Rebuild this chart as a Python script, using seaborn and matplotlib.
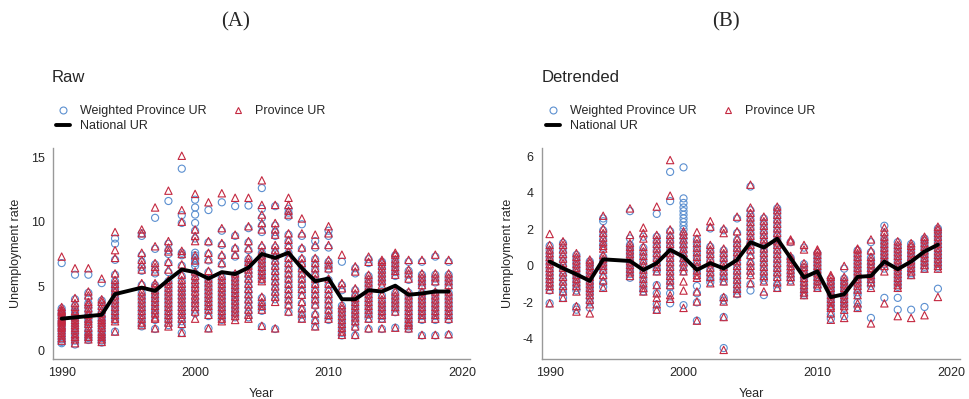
import numpy as np
import pandas as pd
import matplotlib
matplotlib.use("Agg")
import matplotlib.pyplot as plt
from matplotlib.lines import Line2D
import seaborn as sns

years = [1990, 1991, 1992, 1993, 1994, 1996, 1997, 1998, 1999, 2000, 2001, 2002,
         2003, 2004, 2005, 2006, 2007, 2008, 2009, 2010, 2011, 2012, 2013, 2014,
         2015, 2016, 2017, 2018, 2019]

national_raw = [2.5, 2.6, 2.7, 2.8, 4.4, 4.9, 4.65, 5.5, 6.3, 6.1, 5.6, 6.1, 5.95,
                6.45, 7.5, 7.2, 7.6, 6.4, 5.4, 5.6, 4.0, 4.0, 4.7, 4.6, 5.05, 4.35,
                4.45, 4.6, 4.6]

national_det = [0.24, -0.13, -0.46, -0.82, 0.36, 0.27, -0.22, 0.15, 0.88, 0.5, -0.22,
                0.15, -0.14, 0.33, 1.3, 1.01, 1.49, 0.43, -0.63, -0.3, -1.71, -1.55,
                -0.6, -0.55, 0.24, -0.18, 0.24, 0.79, 1.16]

raw_province = [
    [7.3, 3.4, 3.2, 3.0, 2.8, 2.6, 2.4, 2.3, 2.2, 2.0, 1.8, 1.6, 1.4, 1.2, 1.0, 0.8, 3.1, 2.5, 1.9],
    [6.4, 4.1, 3.7, 3.4, 3.1, 2.9, 2.6, 2.4, 2.2, 2.0, 1.8, 1.6, 1.3, 1.1, 0.9, 0.6],
    [6.4, 4.6, 4.3, 3.8, 3.6, 3.3, 3.0, 2.8, 2.5, 2.3, 2.1, 1.8, 1.5, 1.3, 1.1, 0.9],
    [5.6, 4.0, 3.8, 3.5, 3.2, 2.9, 2.6, 2.4, 2.2, 2.0, 1.8, 1.5, 1.3, 1.1, 0.9, 0.7],
    [9.2, 7.8, 7.2, 6.0, 5.5, 5.2, 4.9, 4.6, 4.3, 4.0, 3.7, 3.4, 3.1, 2.8, 2.5, 2.3, 1.5],
    [9.4, 9.1, 7.6, 7.05, 6.7, 6.3, 5.25, 4.6, 4.3, 4.0, 3.7, 3.4, 3.1, 2.8, 2.5, 2.2, 2.0],
    [11.1, 8.1, 6.8, 6.5, 6.15, 5.25, 5.0, 4.7, 4.4, 4.1, 3.8, 3.5, 3.2, 2.9, 2.6, 2.5, 1.75],
    [12.4, 8.5, 8.0, 7.7, 6.9, 6.3, 5.5, 5.2, 4.9, 4.6, 4.3, 4.0, 3.7, 3.4, 3.1, 2.8, 2.5, 2.2, 1.9],
    [15.1, 10.9, 10.0, 7.75, 7.5, 6.7, 5.9, 5.5, 5.2, 4.9, 4.6, 4.3, 4.0, 3.7, 3.4, 3.1, 2.8, 2.5, 2.1, 1.4],
    [12.15, 9.4, 8.9, 8.5, 7.4, 7.0, 6.15, 5.8, 5.5, 5.2, 4.9, 4.6, 4.3, 4.0, 3.7, 3.4, 3.05, 2.5],
    [11.5, 8.5, 7.6, 7.1, 6.2, 5.6, 5.3, 5.0, 4.7, 4.4, 4.1, 3.8, 3.5, 3.2, 2.8, 1.75],
    [12.2, 9.5, 8.35, 7.45, 6.8, 5.8, 5.5, 5.2, 4.9, 4.6, 4.3, 4.0, 3.7, 3.4, 3.1, 2.8, 2.5, 2.3],
    [11.85, 9.0, 8.0, 7.45, 6.0, 5.7, 5.4, 5.1, 4.8, 4.5, 4.2, 3.9, 3.6, 3.3, 3.0, 2.7, 2.4],
    [11.85, 9.65, 8.5, 7.95, 7.2, 6.9, 6.6, 6.3, 6.0, 5.6, 5.2, 4.8, 4.4, 4.0, 3.6, 3.2, 2.8, 2.5],
    [13.2, 11.3, 10.55, 9.9, 9.4, 8.2, 7.7, 7.4, 7.1, 6.8, 6.5, 6.2, 5.9, 5.6, 5.4, 4.2, 3.8, 3.5, 3.2, 1.95],
    [11.3, 9.9, 9.4, 9.0, 8.2, 7.8, 7.4, 7.0, 6.6, 6.2, 5.8, 5.4, 5.0, 4.6, 4.2, 3.8, 1.75],
    [11.85, 11.3, 10.85, 10.55, 9.1, 8.6, 8.2, 7.7, 7.2, 6.8, 6.4, 6.0, 5.6, 5.2, 4.8, 4.4, 4.0, 3.6, 3.05],
    [10.25, 9.1, 8.0, 7.2, 6.8, 6.4, 6.0, 5.6, 5.2, 4.8, 4.35, 3.8, 3.3, 2.9, 2.5],
    [9.0, 8.2, 7.2, 6.8, 6.4, 6.0, 5.6, 5.2, 4.8, 4.4, 4.0, 3.6, 2.9, 2.4, 1.9],
    [9.65, 9.1, 8.2, 7.05, 6.7, 6.4, 5.6, 5.2, 4.8, 4.4, 4.0, 3.6, 3.2, 2.8, 2.5],
    [7.45, 5.25, 4.85, 3.55, 3.3, 3.0, 2.7, 2.4, 2.1, 1.8, 1.5, 1.25],
    [6.55, 6.15, 4.85, 4.45, 4.1, 3.8, 3.5, 3.2, 2.9, 2.6, 2.3, 1.9, 1.25],
    [7.3, 6.9, 5.9, 5.6, 5.3, 5.0, 4.7, 4.4, 4.1, 3.8, 3.5, 3.2, 2.9, 2.5, 1.75],
    [7.05, 6.9, 6.6, 6.3, 6.0, 5.7, 5.4, 5.1, 4.35, 4.0, 3.7, 3.4, 3.1, 2.8, 2.5, 1.75],
    [7.6, 7.45, 7.1, 6.8, 6.5, 6.2, 5.9, 4.6, 4.3, 4.0, 3.7, 3.4, 3.05, 1.8],
    [7.05, 6.3, 6.0, 5.6, 4.6, 4.3, 4.0, 3.7, 3.4, 3.1, 2.8, 2.5, 2.2, 2.0, 1.75],
    [7.05, 6.0, 5.7, 5.4, 5.1, 4.6, 4.3, 4.0, 3.7, 3.4, 3.1, 2.8, 2.5, 1.25],
    [7.45, 6.0, 5.7, 5.4, 4.6, 4.3, 4.0, 3.7, 3.4, 3.1, 2.8, 2.5, 1.25],
    [7.05, 6.0, 5.7, 5.4, 5.1, 4.6, 4.3, 4.0, 3.7, 3.4, 3.1, 2.8, 2.5, 1.3],
]

raw_weighted = [
    [6.8, 3.3, 3.1, 2.9, 2.7, 2.5, 2.3, 2.1, 1.9, 1.7, 1.5, 1.3, 1.1, 0.9, 0.7, 0.6],
    [5.9, 4.0, 3.5, 3.2, 3.0, 2.7, 2.5, 2.3, 2.1, 1.9, 1.7, 1.4, 1.2, 1.0, 0.8, 0.5],
    [5.9, 4.5, 4.1, 3.7, 3.4, 3.1, 2.8, 2.6, 2.4, 2.2, 1.9, 1.6, 1.4, 1.2, 1.0, 0.85],
    [5.25, 3.9, 3.6, 3.3, 3.0, 2.7, 2.5, 2.3, 2.1, 1.9, 1.6, 1.4, 1.2, 1.0, 0.8, 0.65],
    [8.7, 8.3, 7.05, 5.9, 5.4, 5.1, 4.8, 4.5, 4.2, 3.9, 3.6, 3.3, 3.0, 2.7, 2.4, 1.5],
    [9.1, 8.9, 7.4, 6.9, 6.5, 6.2, 5.1, 4.5, 4.2, 3.9, 3.6, 3.3, 3.0, 2.7, 2.4, 2.1, 1.9],
    [10.3, 7.9, 6.7, 6.3, 6.0, 5.1, 4.9, 4.6, 4.3, 4.0, 3.7, 3.4, 3.1, 2.8, 2.4, 1.7],
    [11.6, 8.3, 7.8, 7.5, 6.8, 6.1, 5.4, 5.1, 4.8, 4.5, 4.2, 3.9, 3.6, 3.3, 3.0, 2.7, 2.4, 2.0],
    [14.1, 10.5, 9.9, 7.6, 7.4, 6.6, 5.8, 5.4, 5.0, 4.7, 4.4, 4.1, 3.8, 3.5, 3.2, 2.9, 2.6, 2.3, 2.0, 1.4],
    [11.7, 11.1, 10.55, 9.9, 9.3, 8.7, 7.6, 7.4, 7.2, 7.0, 6.8, 6.6, 6.0, 5.6, 5.2, 4.8, 4.4, 4.0, 3.6, 3.2, 2.9],
    [10.9, 8.4, 7.5, 7.0, 6.1, 5.5, 5.2, 4.9, 4.6, 4.3, 4.0, 3.7, 3.4, 3.1, 2.7, 1.75],
    [11.5, 9.3, 8.2, 7.3, 6.7, 5.7, 5.4, 5.1, 4.8, 4.5, 4.2, 3.9, 3.6, 3.3, 3.0, 2.7, 2.4],
    [11.2, 8.9, 7.9, 7.3, 5.9, 5.6, 5.3, 5.0, 4.7, 4.4, 4.1, 3.8, 3.5, 3.2, 2.9, 2.6],
    [11.25, 9.5, 8.4, 7.8, 7.1, 6.8, 6.5, 6.1, 5.8, 5.4, 5.0, 4.6, 4.2, 3.8, 3.4, 3.0, 2.6],
    [12.6, 11.0, 10.3, 9.7, 9.2, 8.0, 7.6, 7.3, 7.0, 6.7, 6.4, 6.1, 5.8, 5.5, 4.1, 3.7, 3.4, 3.1, 1.9],
    [11.2, 9.7, 9.2, 8.9, 8.0, 7.6, 7.2, 6.8, 6.4, 6.0, 5.6, 5.2, 4.8, 4.4, 4.0, 1.7],
    [11.0, 10.7, 10.4, 9.0, 8.5, 8.1, 7.6, 7.1, 6.7, 6.3, 5.9, 5.5, 5.1, 4.7, 4.3, 3.9, 3.5, 3.0],
    [9.8, 8.9, 7.9, 7.1, 6.7, 6.3, 5.9, 5.5, 5.1, 4.7, 4.3, 3.7, 3.2, 2.8, 2.5],
    [8.5, 8.0, 7.1, 6.7, 6.3, 5.9, 5.5, 5.1, 4.7, 4.3, 3.9, 3.5, 2.8, 2.3, 1.9],
    [9.3, 8.9, 8.0, 6.9, 6.6, 6.3, 5.5, 5.1, 4.7, 4.3, 3.9, 3.5, 3.1, 2.7, 2.4],
    [6.9, 5.1, 4.7, 3.5, 3.2, 2.9, 2.6, 2.3, 2.0, 1.7, 1.4, 1.2],
    [6.4, 6.0, 4.7, 4.3, 4.0, 3.7, 3.4, 3.1, 2.8, 2.5, 2.2, 1.8, 1.2],
    [7.1, 6.8, 5.8, 5.5, 5.2, 4.9, 4.6, 4.3, 4.0, 3.7, 3.4, 3.1, 2.8, 2.5, 1.7],
    [6.9, 6.7, 6.4, 6.1, 5.8, 5.5, 5.2, 4.3, 3.9, 3.6, 3.3, 3.0, 2.7, 2.5, 1.7],
    [7.4, 7.3, 7.0, 6.7, 6.4, 6.1, 5.8, 4.5, 4.2, 3.9, 3.6, 3.3, 3.0, 1.8],
    [6.9, 6.2, 5.9, 5.5, 4.5, 4.2, 3.9, 3.6, 3.3, 3.0, 2.7, 2.4, 2.1, 1.9, 1.7],
    [6.9, 5.9, 5.6, 5.3, 5.0, 4.5, 4.2, 3.9, 3.6, 3.3, 3.0, 2.7, 2.4, 1.2],
    [7.3, 5.9, 5.6, 5.3, 4.5, 4.2, 3.9, 3.6, 3.3, 3.0, 2.7, 2.4, 1.2],
    [6.9, 5.9, 5.6, 5.3, 5.0, 4.5, 4.2, 3.9, 3.6, 3.3, 3.0, 2.7, 2.4, 1.25],
]

det_province = [
    [1.75, 1.15, 0.9, 0.7, 0.5, 0.3, 0.1, -0.1, -0.3, -0.5, -0.7, -0.9, -1.1, -1.3, -2.05],
    [1.35, 1.15, 0.9, 0.65, 0.4, 0.15, -0.1, -0.35, -0.6, -0.85, -1.1, -1.4, -1.75],
    [0.7, 0.5, 0.3, 0.1, -0.1, -0.3, -0.5, -0.7, -0.9, -1.1, -1.4, -2.2, -2.5],
    [0.35, 0.2, 0.0, -0.2, -0.4, -0.6, -0.8, -1.0, -1.2, -1.4, -1.6, -1.85, -2.1, -2.6],
    [2.75, 2.05, 1.8, 1.55, 1.3, 1.1, 0.95, 0.6, 0.4, 0.2, 0.0, -0.2, -0.5, -0.8, -1.2],
    [3.15, 1.7, 1.25, 1.05, 0.85, 0.65, 0.45, 0.25, 0.05, -0.15, -0.35, -0.55],
    [2.1, 1.8, 1.5, 1.05, 0.8, 0.55, 0.3, 0.05, -0.2, -0.45, -0.7, -0.95, -1.2, -1.4],
    [3.25, 1.7, 1.45, 1.2, 0.95, 0.7, 0.45, 0.2, -0.05, -0.3, -1.05, -1.5, -1.75, -2.1, -2.4],
    [5.8, 3.85, 2.0, 1.7, 1.45, 1.2, 0.95, 0.7, 0.45, 0.2, -0.05, -0.3, -0.55, -0.8, -1.05, -1.6, -1.8],
    [1.9, 1.7, 1.45, 1.2, 0.95, 0.7, 0.45, 0.2, -0.05, -0.3, -0.85, -1.35, -2.3],
    [1.85, 1.5, 1.25, 1.0, 0.75, 0.5, 0.25, 0.0, -0.25, -0.5, -0.65, -1.4, -1.95, -3.0],
    [2.45, 2.15, 1.15, 0.9, 0.65, 0.4, 0.15, -0.1, -0.35, -0.6, -0.95],
    [2.05, 1.8, 0.95, 0.7, 0.45, 0.2, -0.05, -0.3, -0.55, -0.85, -1.7, -1.95, -2.8, -4.6],
    [2.7, 1.9, 1.5, 1.25, 1.0, 0.75, 0.5, 0.25, 0.0, -0.25, -0.5, -0.75, -1.0, -1.25, -1.5],
    [4.45, 3.2, 2.9, 2.65, 2.4, 2.15, 1.9, 1.65, 1.4, 1.15, 0.9, 0.6, 0.25, 0.0, -0.25, -0.5, -0.95],
    [2.7, 2.45, 2.2, 1.95, 1.7, 1.45, 1.2, 0.95, 0.7, 0.45, 0.2, -0.05, -0.3, -0.55, -0.85, -1.4],
    [3.25, 3.05, 2.8, 2.55, 2.3, 2.05, 1.8, 1.55, 1.35, 1.15, 0.9, 0.65, 0.4, 0.15, -0.1, -0.35, -0.6, -0.9, -1.2],
    [1.45, 1.35, 0.55, 0.4, 0.2, 0.0, -0.2, -0.4, -0.6, -0.85],
    [1.15, 0.9, 0.15, -0.05, -0.25, -0.45, -0.65, -0.85, -1.05, -1.25, -1.45, -1.6],
    [0.9, 0.8, 0.6, 0.4, 0.2, 0.0, -0.2, -0.4, -0.6, -0.8, -1.0, -1.2],
    [-0.5, -0.6, -0.8, -1.0, -1.2, -1.4, -1.6, -1.8, -2.0, -2.2, -2.3, -2.6, -2.95],
    [0.0, -0.6, -0.8, -1.0, -1.2, -1.4, -1.6, -1.8, -2.0, -2.2, -2.4, -2.85],
    [0.95, 0.9, 0.7, 0.5, 0.3, 0.1, -0.1, -0.3, -0.5, -0.7, -0.9, -1.1, -1.3, -1.6, -2.05, -2.3],
    [1.45, 0.85, 0.5, 0.3, 0.1, -0.1, -0.3, -0.5, -0.7, -0.9, -1.2, -3.15],
    [2.1, 1.85, 1.6, 1.4, 1.2, 1.0, 0.8, 0.6, 0.4, 0.2, 0.0, -0.3, -2.05],
    [1.35, 1.15, 0.95, 0.75, 0.55, 0.35, 0.15, -0.05, -0.25, -0.45, -0.65, -0.85, -1.05, -1.2, -2.75],
    [1.25, 1.1, 0.9, 0.7, 0.5, 0.3, 0.1, -0.1, -0.3, -0.5, -2.85],
    [1.6, 1.45, 1.25, 1.05, 0.85, 0.65, 0.45, 0.25, 0.05, -0.15, -2.7],
    [2.15, 2.0, 1.8, 1.6, 1.4, 1.2, 1.0, 0.8, 0.6, 0.4, 0.2, 0.0, -0.15, -1.7],
]

det_weighted = [
    [1.1, 0.85, 0.65, 0.45, 0.25, 0.05, -0.15, -0.35, -0.55, -0.75, -0.95, -1.15, -1.35, -2.05],
    [1.25, 1.0, 0.75, 0.5, 0.25, 0.0, -0.25, -0.5, -0.75, -1.0, -1.25, -1.45, -1.75],
    [0.6, 0.4, 0.2, 0.0, -0.2, -0.4, -0.6, -0.8, -1.0, -1.2, -1.35, -2.25, -2.4],
    [0.25, 0.1, -0.1, -0.3, -0.5, -0.7, -0.9, -1.1, -1.3, -1.5, -1.75, -2.0, -2.3],
    [2.6, 2.45, 1.95, 1.7, 1.45, 1.2, 1.0, 0.5, 0.3, 0.1, -0.1, -0.3, -0.6, -0.9, -1.15],
    [3.0, 1.5, 1.15, 0.95, 0.75, 0.55, 0.35, 0.15, -0.05, -0.25, -0.45, -0.65],
    [1.6, 1.0, 0.75, 0.5, 0.25, 0.0, -0.25, -0.5, -0.75, -1.0, -1.25, -1.4],
    [2.85, 1.6, 1.35, 1.1, 0.85, 0.6, 0.35, 0.1, -0.15, -0.3, -1.05, -1.5, -2.1, -2.4],
    [5.15, 3.55, 1.9, 1.6, 1.35, 1.1, 0.85, 0.6, 0.35, 0.1, -0.15, -0.4, -0.65, -0.9, -1.15, -1.5, -2.05],
    [5.4, 3.7, 3.45, 3.2, 3.0, 2.8, 2.6, 2.4, 2.2, 2.0, 1.75, 1.5, 1.25, 1.0, 0.75, 0.5, 0.25, 0.0, -0.3, -2.15],
    [1.45, 1.2, 0.95, 0.7, 0.45, 0.2, -0.05, -0.3, -0.55, -1.1, -1.5, -2.0, -3.0],
    [2.05, 1.05, 0.8, 0.55, 0.3, 0.05, -0.2, -0.45, -0.7, -0.9],
    [1.95, 0.85, 0.6, 0.35, 0.1, -0.15, -0.4, -0.65, -0.85, -1.75, -1.9, -2.8, -4.5],
    [2.6, 1.8, 1.4, 1.15, 0.9, 0.65, 0.4, 0.15, -0.1, -0.35, -0.6, -0.85, -1.1, -1.35, -1.55],
    [4.35, 3.05, 2.8, 2.55, 2.3, 2.05, 1.8, 1.55, 1.3, 1.05, 0.8, 0.5, 0.15, -0.1, -0.4, -1.0, -1.35],
    [2.6, 2.35, 2.1, 1.85, 1.6, 1.35, 1.1, 0.85, 0.6, 0.35, 0.1, -0.15, -0.4, -0.65, -0.8, -1.6],
    [3.15, 2.95, 2.7, 2.45, 2.2, 1.95, 1.7, 1.45, 1.25, 1.05, 0.8, 0.55, 0.3, 0.05, -0.2, -0.45, -0.7, -1.0, -1.2],
    [1.3, 0.45, 0.35, 0.15, -0.05, -0.25, -0.45, -0.65, -0.8],
    [1.0, 0.1, -0.1, -0.3, -0.5, -0.7, -0.9, -1.1, -1.3, -1.5, -1.6],
    [0.7, 0.5, 0.3, 0.1, -0.1, -0.3, -0.5, -0.7, -0.9, -1.1, -1.2],
    [-0.7, -0.9, -1.1, -1.3, -1.5, -1.7, -1.9, -2.1, -2.3, -2.65, -2.9],
    [-0.15, -0.7, -0.9, -1.1, -1.3, -1.5, -1.7, -1.9, -2.1, -2.3, -2.75],
    [0.85, 0.6, 0.4, 0.2, 0.0, -0.2, -0.4, -0.6, -0.8, -1.0, -1.2, -1.45, -1.6, -2.0, -2.25],
    [1.3, 0.75, 0.45, 0.25, 0.05, -0.15, -0.35, -0.55, -0.75, -0.95, -1.1, -2.85],
    [2.2, 1.75, 1.5, 1.3, 1.1, 0.9, 0.7, 0.5, 0.3, 0.1, -0.15, -1.75],
    [1.3, 1.05, 0.85, 0.65, 0.45, 0.25, 0.05, -0.15, -0.35, -0.55, -0.75, -0.95, -1.15, -1.75, -2.4],
    [1.2, 1.0, 0.8, 0.6, 0.4, 0.2, 0.0, -0.2, -0.4, -0.5, -2.4],
    [1.5, 1.35, 1.15, 0.95, 0.75, 0.55, 0.35, 0.15, -0.05, -0.15, -2.25],
    [2.05, 1.9, 1.7, 1.5, 1.3, 1.1, 0.9, 0.7, 0.5, 0.3, 0.1, -0.1, -1.25],
]

BLUE = "#5b8fd0"
RED = "#c42840"


def long_df(per_year):
    xs, ys = [], []
    for yr, vals in zip(years, per_year):
        xs.extend([yr] * len(vals))
        ys.extend(vals)
    return pd.DataFrame({"Year": xs, "UR": ys})


sns.set_theme(style="white")
plt.rcParams["font.family"] = ["Liberation Sans", "DejaVu Sans"]

fig = plt.figure(figsize=(9.69, 3.99), dpi=100)
W, H = 969, 399


def axes_px(x0, y0, x1, y1):
    return fig.add_axes([x0 / W, 1 - y1 / H, (x1 - x0) / W, (y1 - y0) / H])


axA = axes_px(53, 148, 470, 359)
axB = axes_px(542, 148, 960, 359)

panels = [
    (axA, raw_weighted, raw_province, national_raw, (-0.62, 15.7), [0, 5, 10, 15], (1989.35, 2020.6)),
    (axB, det_weighted, det_province, national_det, (-5.1, 6.46), [-4, -2, 0, 2, 4, 6], (1989.43, 2020.65)),
]

for ax, wdata, pdata, nat, ylim, yt, xlim in panels:
    sns.scatterplot(data=long_df(wdata), x="Year", y="UR", ax=ax, marker="o", s=26,
                    facecolors="none", edgecolor=BLUE, linewidth=0.8, zorder=2)
    sns.scatterplot(data=long_df(pdata), x="Year", y="UR", ax=ax, marker="^", s=28,
                    facecolors="none", edgecolor=RED, linewidth=0.8, zorder=3)
    sns.lineplot(x=years, y=nat, ax=ax, color="black", linewidth=2.8, zorder=4)
    ax.set_ylim(*ylim)
    ax.set_xlim(*xlim)
    ax.set_yticks(yt)
    ax.set_yticklabels([str(v) for v in yt])
    ax.set_xticks([1990, 2000, 2010, 2020])
    ax.set_xlabel("Year", fontsize=9, labelpad=6)
    ax.set_ylabel("Unemployment rate", fontsize=9, labelpad=6)
    ax.tick_params(axis="both", labelsize=9, length=0, pad=6)
    for s in ["top", "right"]:
        ax.spines[s].set_visible(False)
    for s in ["left", "bottom"]:
        ax.spines[s].set_color("#999999")
        ax.spines[s].set_linewidth(1.0)
    ax.grid(False)

# Panel letters and titles
fig.text(236 / W, 1 - 22 / H, "(A)", ha="center", va="center", fontsize=15,
         family=["Liberation Serif", "DejaVu Serif"])
fig.text(726 / W, 1 - 22 / H, "(B)", ha="center", va="center", fontsize=15,
         family=["Liberation Serif", "DejaVu Serif"])
fig.text(52 / W, 1 - 78 / H, "Raw", ha="left", va="center", fontsize=12)
fig.text(542 / W, 1 - 78 / H, "Detrended", ha="left", va="center", fontsize=12)

handles = [
    Line2D([], [], marker="o", linestyle="none", markerfacecolor="none",
           markeredgecolor=BLUE, markersize=5, markeredgewidth=0.8),
    Line2D([], [], color="black", linewidth=2.8),
    Line2D([], [], marker="^", linestyle="none", markerfacecolor="none",
           markeredgecolor=RED, markersize=5, markeredgewidth=0.8),
]
labels = ["Weighted Province UR", "National UR", "Province UR"]
for x0 in (56, 546):
    fig.legend(handles, labels, loc="upper left", bbox_to_anchor=(x0 / W, 1 - 105 / H),
               ncol=2, frameon=False, fontsize=9, handlelength=1.1, handletextpad=0.8,
               columnspacing=2.0, labelspacing=0.25, borderaxespad=0, borderpad=0)

fig.savefig("out.png", dpi=100)
